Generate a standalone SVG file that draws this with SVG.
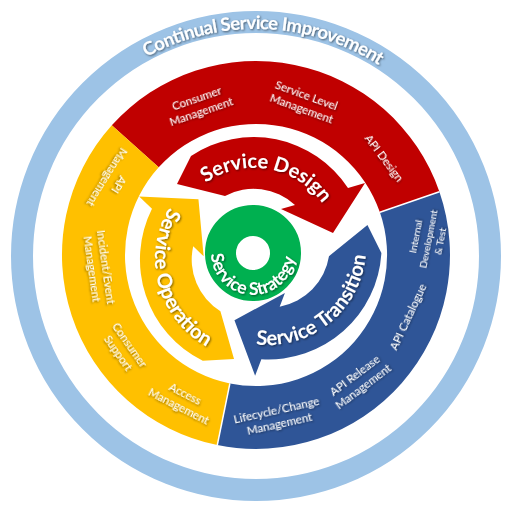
<svg xmlns="http://www.w3.org/2000/svg" xmlns:xlink="http://www.w3.org/1999/xlink" width="509" height="513" viewBox="0 0 509 513">
<defs>
<style>
.t{font-family:Lato,"Open Sans","Liberation Sans",sans-serif;fill:#fff;filter:url(#sh)}
.s{font-size:11.5px}
.xs{font-size:10px}
.b{font-size:20px;font-weight:bold}
.red{fill:#C00000}.yel{fill:#FFC000}.blu{fill:#2F5597}.grn{fill:#00B050}
.sep{stroke:#fff;stroke-width:1.5}
</style>
<filter id="sh" x="-20%" y="-20%" width="140%" height="140%">
<feGaussianBlur in="SourceAlpha" stdDeviation="0.9"/>
<feOffset dx="0.8" dy="0.8" result="o"/>
<feFlood flood-color="#000" flood-opacity="0.55"/>
<feComposite in2="o" operator="in"/>
<feMerge><feMergeNode/><feMergeNode in="SourceGraphic"/></feMerge>
</filter>
<path id="arrow" d="M177,184 L191,156 A113 113 0 0 1 348,188 L365,183 L333,233 L281,209 L295,205 A61 61 0 0 0 225,196 Z"/>
<path id="pCSI" d="M29.1,248.1 A227 227 0 0 1 482.9,263.9"/>
<path id="pSD" d="M171.3,235.4 A84 84 0 0 1 336.7,264.6"/>
<path id="pST" d="M191.8,308.7 A98 98 0 0 0 344.2,185.3"/>
<path id="pSO" d="M229.1,162.4 A100 100 0 0 0 280.9,355.6"/>
<path id="pSS" d="M254.8,211 A42 42 0 0 0 251.2,295 A42 42 0 0 0 254.8,211"/>
</defs>
<rect width="509" height="513" fill="#fff"/>

<g id="csi">
<circle cx="256" cy="256" r="234" fill="none" stroke="#9DC3E6" stroke-width="22"/>
<text class="t" font-size="18.5" font-weight="bold"><textPath href="#pCSI" startOffset="50%" text-anchor="middle" textLength="244">Continual Service Improvement</textPath></text>
</g>

<g id="ring-design">
<path class="red" d="M111.8,125.2 A194 194 0 0 1 439.4,191.8 L379.9,212.3 A131 131 0 0 0 158.7,167.3 Z"/>
<text class="t s" text-anchor="middle" transform="translate(199,105) rotate(-19)"><tspan x="0" y="-3">Consumer</tspan><tspan x="0" y="11">Management</tspan></text>
<text class="t s" text-anchor="middle" transform="translate(304,102) rotate(20)"><tspan x="0" y="-3">Service Level</tspan><tspan x="0" y="11">Management</tspan></text>
<text class="t s" text-anchor="middle" transform="translate(384,158) rotate(53)"><tspan x="0" y="4">API Design</tspan></text>
</g>

<g id="ring-transition">
<path class="blu" d="M439.4,191.8 A194 194 0 0 1 217.3,445.1 L229.9,383.4 A131 131 0 0 0 379.9,212.3 Z"/>
<text class="t xs" text-anchor="middle" transform="translate(428,239) rotate(-79)"><tspan x="0" y="-9">Internal</tspan><tspan x="0" y="3.5">Development</tspan><tspan x="0" y="16">&amp; Test</tspan></text>
<text class="t s" text-anchor="middle" transform="translate(408,317) rotate(-65)"><tspan x="0" y="4">API Catalogue</tspan></text>
<text class="t s" text-anchor="middle" transform="translate(359,381) rotate(-37)"><tspan x="0" y="-3">API Release</tspan><tspan x="0" y="11">Management</tspan></text>
<text class="t s" text-anchor="middle" transform="translate(278,417) rotate(-12.5)"><tspan x="0" y="-3">Lifecycle/Change</tspan><tspan x="0" y="11">Management</tspan></text>
</g>

<g id="ring-operation">
<path class="yel" d="M217.3,445.1 A194 194 0 0 1 111.8,125.2 L158.7,167.3 A131 131 0 0 0 229.9,383.4 Z"/>
<text class="t s" text-anchor="middle" transform="translate(182,400) rotate(27)"><tspan x="0" y="-3">Access</tspan><tspan x="0" y="11">Management</tspan></text>
<text class="t s" text-anchor="middle" transform="translate(124,349) rotate(55)"><tspan x="0" y="-3">Consumer</tspan><tspan x="0" y="11">Support</tspan></text>
<text class="t s" text-anchor="middle" transform="translate(99,268) rotate(82)"><tspan x="0" y="-3">Incident/Event</tspan><tspan x="0" y="11">Management</tspan></text>
<text class="t s" text-anchor="middle" transform="translate(113,181) rotate(122)"><tspan x="0" y="-3">API</tspan><tspan x="0" y="11">Management</tspan></text>
</g>

<g id="separators">
<line class="sep" x1="379.9" y1="212.3" x2="439.4" y2="191.8"/>
<line class="sep" x1="229.9" y1="383.4" x2="217.3" y2="445.1"/>
</g>

<g id="connectors"></g>

<g id="arrow-design">
<use href="#arrow" class="red"/>
<text class="t b"><textPath href="#pSD" startOffset="50%" text-anchor="middle">Service Design</textPath></text>
</g>
<g id="arrow-transition">
<use href="#arrow" class="blu" transform="rotate(127 262 252)"/>
<text class="t b"><textPath href="#pST" startOffset="50%" text-anchor="middle">Service Transition</textPath></text>
</g>
<g id="arrow-operation">
<use href="#arrow" class="yel" transform="rotate(-120 256 255)"/>
<text class="t b"><textPath href="#pSO" startOffset="50%" text-anchor="middle">Service Operation</textPath></text>
</g>

<g id="strategy">
<circle cx="253" cy="253" r="32.5" fill="none" stroke="#00B050" stroke-width="31"/>
<text class="t" font-size="17.5" font-weight="bold"><textPath href="#pSS" startOffset="50%" text-anchor="middle">Service Strategy</textPath></text>
</g>
</svg>
